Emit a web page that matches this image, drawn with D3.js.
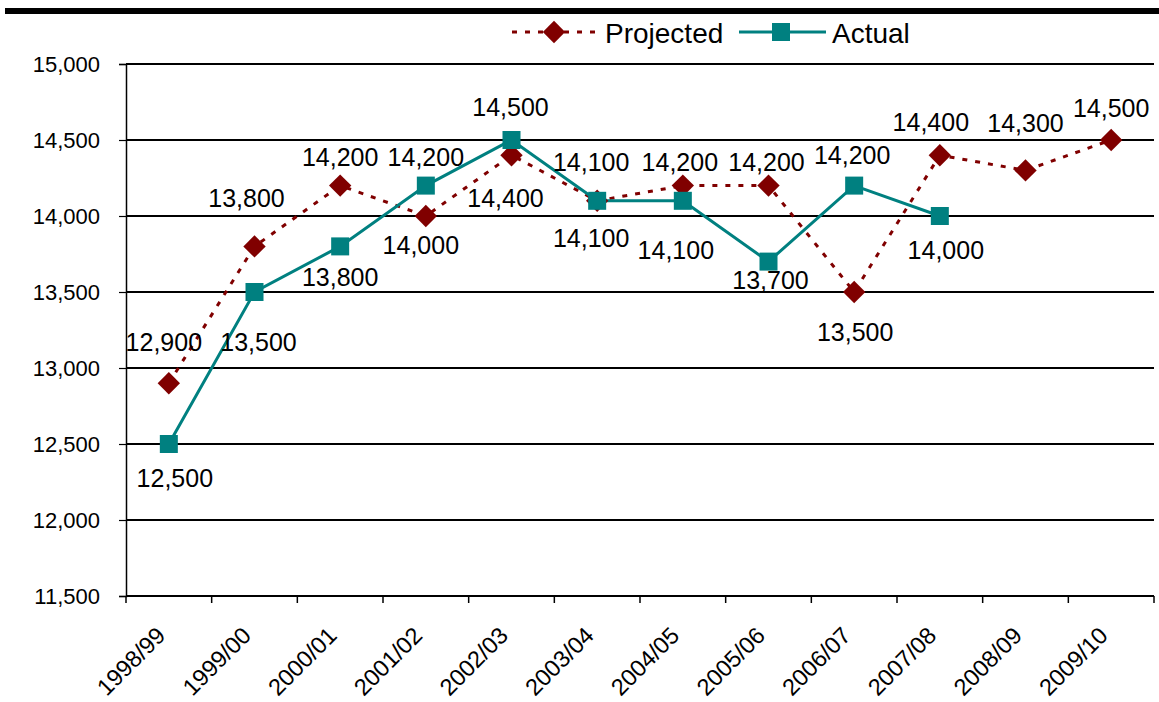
<!DOCTYPE html>
<html>
<head>
<meta charset="utf-8">
<script src="https://cdn.jsdelivr.net/npm/d3@7"></script>
<style>
  html, body { margin: 0; padding: 0; background: #fff; }
  svg { display: block; font-family: "Liberation Sans", Arial, sans-serif; }
</style>
</head>
<body>
<svg id="chart" width="1159" height="702"></svg>
<script>
// Fiscal years on the category axis
const years = ["1998/99", "1999/00", "2000/01", "2001/02", "2002/03", "2003/04",
               "2004/05", "2005/06", "2006/07", "2007/08", "2008/09", "2009/10"];

// Projected vs. actual values per year (actual stops at 2007/08)
const projected = [12900, 13800, 14200, 14000, 14400, 14100, 14200, 14200, 13500, 14400, 14300, 14500];
const actual    = [12500, 13500, 13800, 14200, 14500, 14100, 14100, 13700, 14200, 14000];

// Value axis ticks
const yTicks = [11500, 12000, 12500, 13000, 13500, 14000, 14500, 15000];

// Hand-placed data label offsets [dx, dy] in pixels from each marker
const projectedLabelOffsets = [[-5, -41], [-8, -48], [0, -29], [-5, 29], [-6, 43], [-6, -39],
                               [-3, -24], [-2, -24], [1, 40], [-9, -33], [0, -47], [0, -32]];
const actualLabelOffsets    = [[6, 34], [4, 50], [0, 31], [0, -29], [-1, -33], [-6, 37],
                               [-7, 49], [2, 18], [-2, -31], [6, 34]];

const COLOR_PROJ = "#800000";
const COLOR_ACT = "#008080";

const svg = d3.select("#chart");
const plot = { left: 126, right: 1154, top: 64, bottom: 596 };

const x = d3.scaleBand().domain(years).range([plot.left, plot.right]).paddingInner(0).paddingOuter(0);
const y = d3.scaleLinear().domain([11500, 15000]).range([plot.bottom, plot.top]);
const cx = d => x(d) + x.bandwidth() / 2;
const fmt = d3.format(",");

// Heavy rule along the top of the page
svg.append("rect").attr("x", 5).attr("y", 8).attr("width", 1154).attr("height", 6).attr("fill", "#000");

// Horizontal gridlines
svg.append("g")
  .selectAll("line")
  .data(yTicks)
  .join("line")
  .attr("x1", plot.left).attr("x2", plot.right)
  .attr("y1", d => y(d)).attr("y2", d => y(d))
  .attr("stroke", "#000").attr("stroke-width", 1.2)
  .attr("shape-rendering", "crispEdges");

// Value axis
const yAxis = svg.append("g")
  .attr("transform", `translate(${plot.left},0)`)
  .call(d3.axisLeft(y).tickValues(yTicks).tickFormat(fmt).tickSize(7).tickPadding(19));
yAxis.select(".domain").attr("stroke", "#000").attr("stroke-width", 1.5);
yAxis.selectAll(".tick line").attr("stroke", "#000").attr("stroke-width", 1.2);
yAxis.selectAll("text").attr("font-size", 22).attr("fill", "#000")
  .attr("font-family", "Liberation Sans, Arial, sans-serif");

// Category axis: ticks sit on band boundaries
const boundaries = years.map(d => x(d)).concat([plot.right]);
const xAxisG = svg.append("g");
xAxisG.append("line")
  .attr("x1", plot.left).attr("x2", plot.right)
  .attr("y1", plot.bottom).attr("y2", plot.bottom)
  .attr("stroke", "#000").attr("stroke-width", 1.5);
xAxisG.selectAll("line.tick")
  .data(boundaries)
  .join("line")
  .attr("class", "tick")
  .attr("x1", d => d).attr("x2", d => d)
  .attr("y1", plot.bottom).attr("y2", plot.bottom + 7)
  .attr("stroke", "#000").attr("stroke-width", 1.5);
xAxisG.selectAll("text")
  .data(years)
  .join("text")
  .attr("transform", d => `translate(${cx(d) - 14},${plot.bottom + 29}) rotate(-45)`)
  .attr("text-anchor", "end")
  .attr("dy", "0.72em")
  .attr("font-size", 23.5)
  .attr("fill", "#000")
  .text(d => d);

// Series lines
const projData = projected.map((v, i) => ({ year: years[i], value: v, off: projectedLabelOffsets[i] }));
const actData = actual.map((v, i) => ({ year: years[i], value: v, off: actualLabelOffsets[i] }));
const line = d3.line().x(d => cx(d.year)).y(d => y(d.value));

svg.append("path")
  .datum(projData)
  .attr("d", line)
  .attr("fill", "none")
  .attr("stroke", COLOR_PROJ)
  .attr("stroke-width", 3)
  .attr("stroke-dasharray", "5,8");

svg.append("path")
  .datum(actData)
  .attr("d", line)
  .attr("fill", "none")
  .attr("stroke", COLOR_ACT)
  .attr("stroke-width", 3);

// Markers
const diamond = d3.symbol().type(d3.symbolSquare).size(250);
svg.append("g")
  .selectAll("path")
  .data(projData)
  .join("path")
  .attr("d", diamond)
  .attr("transform", d => `translate(${cx(d.year)},${y(d.value)}) rotate(45)`)
  .attr("fill", COLOR_PROJ);

svg.append("g")
  .selectAll("rect")
  .data(actData)
  .join("rect")
  .attr("x", d => cx(d.year) - 9)
  .attr("y", d => y(d.value) - 9)
  .attr("width", 18).attr("height", 18)
  .attr("fill", COLOR_ACT);

// Data labels
function addLabels(data) {
  svg.append("g")
    .selectAll("text")
    .data(data)
    .join("text")
    .attr("x", d => cx(d.year) + d.off[0])
    .attr("y", d => y(d.value) + d.off[1])
    .attr("text-anchor", "middle")
    .attr("dominant-baseline", "central")
    .attr("font-size", 25)
    .attr("fill", "#000")
    .text(d => fmt(d.value));
}
addLabels(projData);
addLabels(actData);

// Legend
const legend = svg.append("g").attr("transform", "translate(0,32)");
legend.append("line")
  .attr("x1", 512).attr("x2", 596).attr("y1", 0).attr("y2", 0)
  .attr("stroke", COLOR_PROJ).attr("stroke-width", 3).attr("stroke-dasharray", "5,8");
legend.append("path")
  .attr("d", diamond)
  .attr("transform", "translate(554,0) rotate(45)")
  .attr("fill", COLOR_PROJ);
legend.append("text")
  .attr("x", 605).attr("y", 1)
  .attr("dominant-baseline", "central")
  .attr("font-size", 28)
  .text("Projected");
legend.append("line")
  .attr("x1", 739).attr("x2", 826).attr("y1", 0).attr("y2", 0)
  .attr("stroke", COLOR_ACT).attr("stroke-width", 3);
legend.append("rect")
  .attr("x", 772).attr("y", -9).attr("width", 18).attr("height", 18)
  .attr("fill", COLOR_ACT);
legend.append("text")
  .attr("x", 832).attr("y", 1)
  .attr("dominant-baseline", "central")
  .attr("font-size", 28)
  .text("Actual");
</script>
</body>
</html>
